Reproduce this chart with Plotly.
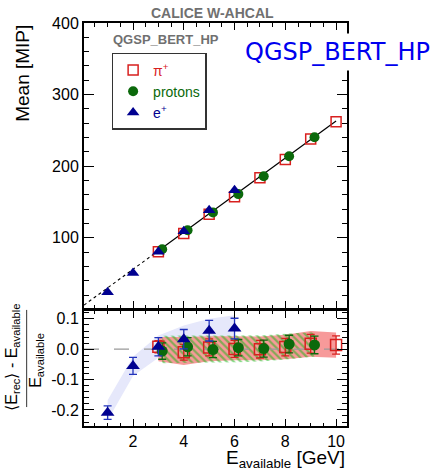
import plotly.graph_objects as go
import numpy as np

# ---------------- data ----------------
pi_x = [3, 4, 5, 6, 7, 8, 9, 10]
pi_mean = [80.5, 106, 133, 157.5, 184, 209.5, 238, 262]
pi_resp = [0.008, -0.010, 0.006, 0.001, 0.0, 0.007, 0.018, 0.014]
pi_err = [0.020, 0.026, 0.028, 0.028, 0.029, 0.029, 0.031, 0.030]
pi_band_hi = [0.040, 0.040, 0.043, 0.043, 0.042, 0.048, 0.060, 0.055]
pi_band_lo = [-0.040, -0.052, -0.040, -0.036, -0.036, -0.033, -0.025, -0.028]

p_x = [3.15, 4.15, 5.15, 6.15, 7.15, 8.15, 9.15]
p_mean = [84, 110.5, 135.5, 161, 186, 214, 240.5]
p_resp = [-0.006, 0.008, -0.001, 0.005, 0.002, 0.017, 0.014]
p_err = [0.027, 0.030, 0.027, 0.027, 0.028, 0.029, 0.029]
p_band_hi = [0.044, 0.045, 0.045, 0.045, 0.046, 0.052, 0.056]
p_band_lo = [-0.046, -0.045, -0.044, -0.043, -0.040, -0.033, -0.024]

e_x = [1, 2, 3, 4, 5, 6]
e_mean = [24, 51, 80.5, 109, 138.5, 166.5]
e_resp = [-0.209, -0.055, 0.008, 0.033, 0.061, 0.068]
e_err = [0.022, 0.028, 0.030, 0.032, 0.034, 0.034]
e_band_hi = [-0.168, -0.025, 0.045, 0.078, 0.100, 0.112]
e_band_lo = [-0.235, -0.088, -0.028, -0.010, 0.020, 0.025]

fit_slope = 25.9
fit_intercept = 4.2
fit_solid_range = [3, 10]
fit_dotted_range = [0.07, 3]

x_range = [0.07, 10.43]
top_y_range = [1.5, 400]
bot_y_range = [-0.253, 0.126]
bot_ytickvals = [-0.2, -0.1, 0.0, 0.1]
bot_yticktext = ["-0.2", "-0.1", "0.0", "0.1"]

# ---------------- style ----------------
RED = "#d8201f"
GREEN = "#0b690b"
BLUE = "#000090"
EBLUE = "#2233bb"
GRAY = "#707070"
FONT = "Liberation Sans, Arial, sans-serif"

fig = go.Figure()

# ---------------- top panel ----------------
xs = np.array(fit_dotted_range)
fig.add_trace(go.Scatter(x=xs, y=fit_slope * xs + fit_intercept, mode="lines",
                         line=dict(color="black", width=1.1, dash="dot"),
                         showlegend=False, xaxis="x2", yaxis="y2", hoverinfo="skip"))
xs = np.array(fit_solid_range)
fig.add_trace(go.Scatter(x=xs, y=fit_slope * xs + fit_intercept, mode="lines",
                         line=dict(color="black", width=1.2),
                         showlegend=False, xaxis="x2", yaxis="y2", hoverinfo="skip"))

fig.add_trace(go.Scatter(x=pi_x, y=pi_mean, mode="markers",
                         name="<span style='color:%s'>π<sup>+</sup></span>" % RED,
                         marker=dict(symbol="square-open", size=10, color=RED, line=dict(width=1.5)),
                         xaxis="x2", yaxis="y2"))
fig.add_trace(go.Scatter(x=p_x, y=p_mean, mode="markers",
                         name="<span style='color:%s'>protons</span>" % GREEN,
                         marker=dict(symbol="circle", size=10, color=GREEN),
                         xaxis="x2", yaxis="y2"))
fig.add_trace(go.Scatter(x=e_x, y=e_mean, mode="markers",
                         name="<span style='color:%s'>e<sup>+</sup></span>" % BLUE,
                         marker=dict(symbol="triangle-up", size=11, color=BLUE),
                         xaxis="x2", yaxis="y2"))

# ---------------- bottom panel ----------------
def band(xv, hi, lo):
    return list(xv) + list(xv)[::-1], list(hi) + list(lo)[::-1]

bx, by = band(e_x, e_band_hi, e_band_lo)
fig.add_trace(go.Scatter(x=bx, y=by, fill="toself", mode="none",
                         fillcolor="#e6e8fb", showlegend=False, hoverinfo="skip",
                         xaxis="x", yaxis="y"))
bx, by = band(pi_x, pi_band_hi, pi_band_lo)
fig.add_trace(go.Scatter(x=bx, y=by, fill="toself", mode="none",
                         fillcolor="#f79a9a", showlegend=False, hoverinfo="skip",
                         xaxis="x", yaxis="y"))
bx, by = band(p_x, p_band_hi, p_band_lo)
fig.add_trace(go.Scatter(x=bx, y=by, fill="toself", mode="none",
                         fillcolor="rgba(0,0,0,0)",
                         fillpattern=dict(shape="\\", fgcolor="#12b812", bgcolor="rgba(0,0,0,0)",
                                          size=5, solidity=0.45),
                         showlegend=False, hoverinfo="skip",
                         xaxis="x", yaxis="y"))

fig.add_trace(go.Scatter(x=x_range, y=[0, 0], mode="lines",
                         line=dict(color="#999999", width=1.3, dash="longdash"),
                         showlegend=False, hoverinfo="skip", xaxis="x", yaxis="y"))

fig.add_trace(go.Scatter(x=pi_x, y=pi_resp, mode="markers",
                         error_y=dict(type="data", array=pi_err, color=RED, thickness=1.3, width=4),
                         marker=dict(symbol="square-open", size=11, color=RED, line=dict(width=1.5)),
                         showlegend=False, xaxis="x", yaxis="y"))
fig.add_trace(go.Scatter(x=p_x, y=p_resp, mode="markers",
                         error_y=dict(type="data", array=p_err, color=GREEN, thickness=1.3, width=4),
                         marker=dict(symbol="circle", size=11, color=GREEN),
                         showlegend=False, xaxis="x", yaxis="y"))
fig.add_trace(go.Scatter(x=e_x, y=e_resp, mode="markers",
                         error_y=dict(type="data", array=e_err, color=EBLUE, thickness=1.3, width=4),
                         marker=dict(symbol="triangle-up", size=12, color=BLUE),
                         showlegend=False, xaxis="x", yaxis="y"))

axis_common = dict(showline=True, linecolor="black", linewidth=2, mirror="allticks",
                   ticks="inside", tickcolor="black", showgrid=False, zeroline=False,
                   tickfont=dict(family=FONT, size=16, color="black"))

fig.update_layout(
    width=432, height=470,
    margin=dict(l=84, r=85, t=23, b=44),
    paper_bgcolor="white", plot_bgcolor="white",
    xaxis=dict(domain=[0, 1], range=x_range, anchor="y",
               tickvals=[2, 4, 6, 8, 10], ticklen=7, tickwidth=1.2,
               minor=dict(dtick=0.5, tick0=0, ticklen=3.5, ticks="inside", tickcolor="black"),
               **axis_common),
    xaxis2=dict(domain=[0, 1], range=x_range, anchor="y2", matches="x",
                showticklabels=False,
                tickvals=[2, 4, 6, 8, 10], ticklen=7, tickwidth=1.2,
                minor=dict(dtick=0.5, tick0=0, ticklen=3.5, ticks="inside", tickcolor="black"),
                **axis_common),
    yaxis=dict(domain=[0, 0.2854], range=bot_y_range, anchor="x",
               tickmode="array", tickvals=bot_ytickvals, ticktext=bot_yticktext,
               ticklen=10, tickwidth=1.2,
               minor=dict(dtick=0.02, tick0=0, ticklen=5, ticks="inside", tickcolor="black"),
               **axis_common),
    yaxis2=dict(domain=[0.292, 1], range=top_y_range, anchor="x2",
                dtick=100, tick0=0, ticklen=10, tickwidth=1.2,
                minor=dict(dtick=20, tick0=0, ticklen=5, ticks="inside", tickcolor="black"),
                **axis_common),
    legend=dict(x=0.105, y=0.9256, xanchor="left", yanchor="top",
                bgcolor="white", bordercolor="#333333", borderwidth=1.5,
                font=dict(family=FONT, size=14), itemwidth=30,
                tracegroupgap=0),
    showlegend=True,
)

C = dict(xanchor="center", yanchor="middle", xref="paper", yref="paper", showarrow=False)
annotations = [
    dict(text="CALICE W-AHCAL", x=0.489, y=1.025,
         font=dict(family=FONT, size=14, color=GRAY, weight="bold"), **C),
    dict(text="QGSP_BERT_HP", x=0.312, y=0.958,
         font=dict(family=FONT, size=13, color=GRAY, weight="bold"), **C),
    dict(text="QGSP_BERT_HP", x=0.593, y=0.928, xref="paper", yref="paper",
         xanchor="left", yanchor="middle", showarrow=False, bgcolor="white", borderpad=4,
         font=dict(family="DejaVu Sans", size=24, color="#0000ee")),
    dict(text="Mean [MIP]", x=-0.234, y=0.875, textangle=-90,
         font=dict(family=FONT, size=19, color="black"), **C),
    dict(text="E<sub>available</sub> [GeV]", x=1.0, y=-0.083, xref="paper", yref="paper",
         xanchor="right", yanchor="middle", showarrow=False,
         font=dict(family=FONT, size=19, color="black")),
    dict(text="⟨E<sub>rec</sub>⟩ - E<sub>available</sub>", x=-0.275, y=0.171, textangle=-90,
         font=dict(family=FONT, size=16, color="black"), **C),
    dict(text="E<sub>available</sub>", x=-0.179, y=0.164, textangle=-90,
         font=dict(family=FONT, size=16, color="black"), **C),
]
fig.update_layout(annotations=annotations)
fig.add_shape(type="line", xref="paper", yref="paper", x0=-0.218, x1=-0.218,
              y0=0.047, y1=0.288, line=dict(color="#333333", width=1))

fig.write_html("out.html")
